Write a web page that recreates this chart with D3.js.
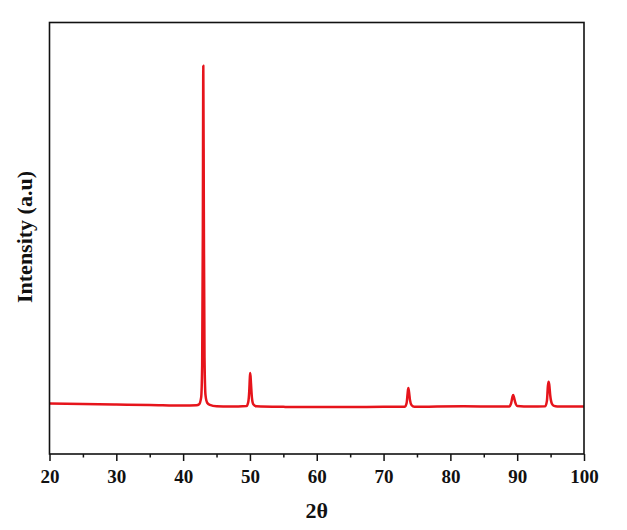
<!DOCTYPE html>
<html><head><meta charset="utf-8">
<script src="https://cdn.jsdelivr.net/npm/d3@7"></script>
<style>body{margin:0;background:#fff}svg{display:block}</style>
</head><body>
<svg id="c" width="627" height="530"></svg>
<script>
// 2θ positions (degrees) and intensities (a.u.)
const twoTheta = [20,25,30,35,40,42,42.4,42.7,42.85,42.95,43.02,43.1,43.2,43.35,43.6,44,45,47,49.5,49.75,49.9,50.0,50.05,50.15,50.3,50.5,51,55,60,65,70,73.2,73.45,73.6,73.7,73.8,73.95,74.2,74.6,78,82,86,88.8,89.1,89.3,89.4,89.5,89.7,90,92,94.2,94.45,94.6,94.7,94.8,94.95,95.2,95.5,96,98,100];
const intensity = [468,463,458,455,450,452,462,525,820,2050,3600,2250,900,545,475,455,442,440,445,482,585,720,750,660,520,462,442,437,435,436,437,438,472,560,611,580,502,452,438,440,442,440,441,472,532,546,530,480,446,441,443,492,632,669,642,540,466,446,441,440,440];
const xTicks = [20,30,40,50,60,70,80,90,100];
const xMinor = [25,35,45,55,65,75,85,95];

const svg = d3.select("#c");
const L=49.5, R=584, T=22.5, B=454;
const x = d3.scaleLinear().domain([20,100]).range([L,R]);
const y = d3.scaleLinear().domain([0,4000]).range([B,T]);
const data = twoTheta.map((d,i)=>({x:d,y:intensity[i]}));

svg.append("path").datum(data)
  .attr("fill","none").attr("stroke","#e6141b").attr("stroke-width",2.5)
  .attr("stroke-linejoin","round")
  .attr("d", d3.line().x(d=>x(d.x)).y(d=>y(d.y)).curve(d3.curveMonotoneX));

svg.append("rect").attr("x",L).attr("y",T).attr("width",R-L).attr("height",B-T)
  .attr("fill","none").attr("stroke","#111").attr("stroke-width",1.6);

const ax = svg.append("g").attr("transform",`translate(0,${B})`)
  .call(d3.axisBottom(x).tickValues(xTicks).tickSize(7).tickPadding(9).tickFormat(d3.format("d")));
ax.select(".domain").remove();
ax.selectAll("line").attr("stroke","#111").attr("stroke-width",1.5);
ax.selectAll("text").attr("font-family","Liberation Serif").attr("font-weight","bold").attr("font-size",19).attr("fill","#111");
const am = svg.append("g").attr("transform",`translate(0,${B})`)
  .call(d3.axisBottom(x).tickValues(xMinor).tickSize(3.5).tickFormat(""));
am.select(".domain").remove();
am.selectAll("line").attr("stroke","#111").attr("stroke-width",1.5);

svg.append("text").attr("x",(L+R)/2).attr("y",518).attr("text-anchor","middle")
  .attr("font-family","Liberation Serif").attr("font-weight","bold").attr("font-size",22).attr("fill","#111").text("2θ");
svg.append("text").attr("transform",`translate(32,${237}) rotate(-90)`).attr("text-anchor","middle")
  .attr("font-family","Liberation Serif").attr("font-weight","bold").attr("font-size",22).attr("fill","#111").text("Intensity (a.u)");
</script>
</body></html>
